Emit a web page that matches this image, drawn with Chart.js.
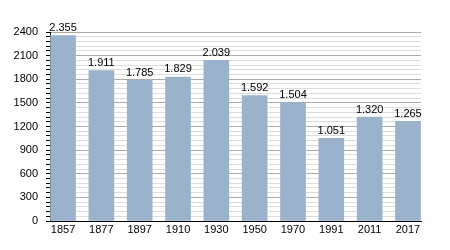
<!DOCTYPE html>
<html>
<head>
<meta charset="utf-8">
<script src="https://cdn.jsdelivr.net/npm/chart.js@4"></script>
<style>
  html, body { margin: 0; padding: 0; background: #fff; }
  #wrap { width: 450px; height: 250px; }
</style>
</head>
<body>
<div id="wrap"><canvas id="chart" width="450" height="250"></canvas></div>
<script>
const years = ['1857', '1877', '1897', '1910', '1930', '1950', '1970', '1991', '2011', '2017'];
const population = [2355, 1911, 1785, 1829, 2039, 1592, 1504, 1051, 1320, 1265];
const yMax = 2400;
const majorStep = 300;
const minorStep = 60;

// German style thousands separator: 2355 -> 2.355
const fmt = v => v.toLocaleString('de-DE');

const valueLabels = {
  id: 'valueLabels',
  afterDatasetsDraw(chart) {
    const ctx = chart.ctx;
    const meta = chart.getDatasetMeta(0);
    ctx.save();
    ctx.font = '11px "Liberation Sans", Arial, sans-serif';
    ctx.fillStyle = '#000';
    ctx.textAlign = 'center';
    ctx.textBaseline = 'bottom';
    meta.data.forEach((bar, i) => {
      ctx.fillText(fmt(population[i]), bar.x, bar.y - 2);
    });
    ctx.restore();
  }
};

// bars sit flush with both ends of the axis, so use a linear index axis
const edge = 0.34;

new Chart(document.getElementById('chart'), {
  type: 'bar',
  data: {
    datasets: [{
      data: population.map((v, i) => ({ x: i, y: v })),
      backgroundColor: '#9bb2cc',
      borderWidth: 0,
      barThickness: 25,
    }],
  },
  options: {
    responsive: false,
    animation: false,
    layout: { padding: { left: 0, right: 29, top: 32, bottom: 0 } },
    plugins: { legend: { display: false }, tooltip: { enabled: false } },
    scales: {
      x: {
        type: 'linear',
        min: -edge,
        max: years.length - 1 + edge,
        offset: false,
        grid: { display: false, drawTicks: false },
        border: { color: '#000', width: 1 },
        afterBuildTicks(s) { s.ticks = years.map((_, i) => ({ value: i })); },
        ticks: {
          color: '#000',
          padding: 2,
          maxRotation: 0,
          autoSkip: false,
          font: { family: '"Liberation Sans", Arial, sans-serif', size: 11 },
          callback: v => years[v] ?? '',
        },
        afterFit(s) { s.height = 29; },
      },
      y: {
        min: 0,
        max: yMax,
        border: { color: '#000', width: 1 },
        grid: {
          color: c => (c.tick.value % majorStep === 0 ? '#aaaaaa' : '#dddddd'),
          tickColor: '#000',
          tickLength: 4,
        },
        ticks: {
          stepSize: minorStep,
          autoSkip: false,
          color: '#000',
          padding: 8,
          font: { family: '"Liberation Sans", Arial, sans-serif', size: 11 },
          callback: v => (v % majorStep === 0 ? v : ''),
        },
        afterFit(s) { s.width = 50; },
      },
    },
  },
  plugins: [valueLabels],
});
</script>
</body>
</html>
